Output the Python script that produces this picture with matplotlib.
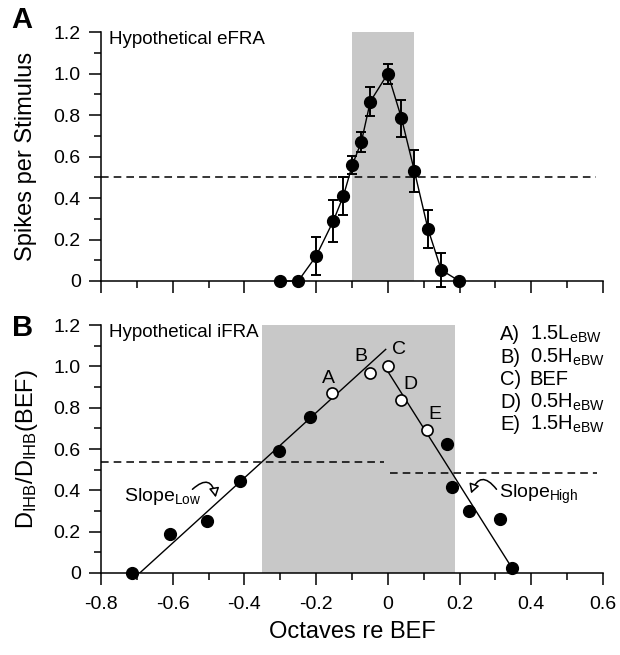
import numpy as np
import matplotlib
matplotlib.use("Agg")
import matplotlib.pyplot as plt
from matplotlib.ticker import MultipleLocator, FuncFormatter

plt.rcParams['font.family'] = ['Liberation Sans', 'DejaVu Sans']
plt.rcParams['axes.unicode_minus'] = False
plt.rcParams['mathtext.fontset'] = 'custom'
plt.rcParams['mathtext.rm'] = 'Liberation Sans'
plt.rcParams['mathtext.default'] = 'regular'

# ---------------- Data: panel A (eFRA) ----------------
efra_x = [-0.30, -0.25, -0.20, -0.152, -0.124, -0.099, -0.074, -0.049, 0.0,
          0.038, 0.074, 0.112, 0.149, 0.199]
efra_y = [0.0, 0.0, 0.12, 0.29, 0.41, 0.56, 0.67, 0.865, 1.0,
          0.785, 0.53, 0.25, 0.053, 0.0]
efra_err = [0.0, 0.0, 0.09, 0.10, 0.09, 0.045, 0.05, 0.07, 0.048,
            0.09, 0.10, 0.09, 0.08, 0.0]
efra_band = [-0.101, 0.074]
efra_half = 0.5
efra_half_span = [-0.8, 0.58]

# ---------------- Data: panel B (iFRA) ----------------
ifra_fill_x = [-0.713, -0.607, -0.504, -0.412, -0.303, -0.218,
               0.166, 0.180, 0.225, 0.312, 0.345]
ifra_fill_y = [0.0, 0.189, 0.252, 0.444, 0.589, 0.756,
               0.624, 0.418, 0.298, 0.260, 0.024]
ifra_open_x = [-0.155, -0.050, 0.0, 0.037, 0.108]
ifra_open_y = [0.869, 0.969, 1.0, 0.837, 0.690]
ifra_open_lab = ['A', 'B', 'C', 'D', 'E']
ifra_lab_x = [-0.165, -0.074, 0.030, 0.063, 0.132]
ifra_lab_y = [0.942, 1.046, 1.082, 0.914, 0.768]
ifra_band = [-0.352, 0.188]
low_fit_x = [-0.692, -0.006]
low_fit_y = [0.0, 1.082]
high_fit_x = [0.0, 0.355]
high_fit_y = [0.975, 0.0]
low_half_y = 0.537
low_half_span = [-0.8, -0.012]
high_half_y = 0.482
high_half_span = [0.005, 0.584]

legend_keys = ['A)', 'B)', 'C)', 'D)', 'E)']
legend_vals = [r'1.5L$_{eBW}$', r'0.5H$_{eBW}$', 'BEF', r'0.5H$_{eBW}$', r'1.5H$_{eBW}$']

x_ticks = [-0.8, -0.6, -0.4, -0.2, 0.0, 0.2, 0.4, 0.6]
y_ticks = [0.0, 0.2, 0.4, 0.6, 0.8, 1.0, 1.2]

GRAY = '#c8c8c8'


def fmt(v, pos=None):
    if abs(v) < 1e-9:
        return '0'
    return '%.1f' % v


fig = plt.figure(figsize=(6.2, 6.55), dpi=100)
axA = fig.add_axes([0.1629, 0.571, 0.8097, 0.380])
axB = fig.add_axes([0.1629, 0.1252, 0.8097, 0.3786])

for ax in (axA, axB):
    ax.set_xlim(-0.8, 0.6)
    ax.set_ylim(0, 1.2)
    ax.spines['top'].set_visible(False)
    ax.spines['right'].set_visible(False)
    for s in ('left', 'bottom'):
        ax.spines[s].set_linewidth(1.1)
    ax.set_xticks(x_ticks)
    ax.set_yticks(y_ticks)
    ax.xaxis.set_minor_locator(MultipleLocator(0.1))
    ax.yaxis.set_minor_locator(MultipleLocator(0.1))
    ax.yaxis.set_major_formatter(FuncFormatter(fmt))
    ax.xaxis.set_major_formatter(FuncFormatter(fmt))
    ax.tick_params(which='major', length=8.5, width=1.1, labelsize=14, pad=6)
    ax.tick_params(which='minor', length=5, width=1.1)
    ax.tick_params(axis='x', which='major', pad=8)

# ---- Panel A ----
axA.axvspan(efra_band[0], efra_band[1], color=GRAY, lw=0, zorder=0)
axA.hlines(efra_half, efra_half_span[0], efra_half_span[1], colors='black',
           linestyles=(0, (5, 3.3)), lw=1.1, zorder=1)
axA.errorbar(efra_x, efra_y, yerr=efra_err, fmt='-o', color='black', lw=1.0,
             ms=8.5, elinewidth=1.4, capsize=3.5, capthick=1.4, zorder=3,
             clip_on=False)
axA.tick_params(axis='x', labelbottom=False)
axA.set_ylabel('Spikes per Stimulus', fontsize=17)
axA.yaxis.set_label_coords(-0.128, 0.5)
axA.text(0.016, 0.952, 'Hypothetical eFRA', transform=axA.transAxes,
         fontsize=13.5, va='baseline', ha='left')

# ---- Panel B ----
axB.axvspan(ifra_band[0], ifra_band[1], color=GRAY, lw=0, zorder=0)
axB.hlines(low_half_y, low_half_span[0], low_half_span[1], colors='black',
           linestyles=(0, (5, 3.3)), lw=1.1, zorder=1)
axB.hlines(high_half_y, high_half_span[0], high_half_span[1], colors='black',
           linestyles=(0, (5, 3.3)), lw=1.1, zorder=1)
axB.plot(low_fit_x, low_fit_y, color='black', lw=1.0, zorder=2)
axB.plot(high_fit_x, high_fit_y, color='black', lw=1.0, zorder=2)
axB.plot(ifra_fill_x, ifra_fill_y, 'o', color='black', ms=8.5, zorder=3,
         clip_on=False)
axB.plot(ifra_open_x, ifra_open_y, 'o', mfc='white', mec='black', mew=1.2,
         ms=8.0, zorder=3)
for lx, ly, lab in zip(ifra_lab_x, ifra_lab_y, ifra_open_lab):
    axB.text(lx, ly, lab, fontsize=14, ha='center', va='center')

ys = [1.127, 1.018, 0.910, 0.800, 0.692]
for k, v, yy in zip(legend_keys, legend_vals, ys):
    axB.text(0.313, yy, k, fontsize=14.5, ha='left', va='baseline')
    axB.text(0.395, yy, v, fontsize=14.5, ha='left', va='baseline')

axB.text(0.016, 0.952, 'Hypothetical iFRA', transform=axB.transAxes,
         fontsize=13.5, va='baseline', ha='left')

axB.annotate('', xy=(-0.480, 0.366), xytext=(-0.545, 0.405),
             arrowprops=dict(arrowstyle='-|>,head_length=0.55,head_width=0.3',
                             connectionstyle='arc3,rad=-0.9', fc='white',
                             ec='black', lw=1.1, shrinkA=0, shrinkB=0))
axB.text(-0.735, 0.368, r'Slope$_{Low}$', fontsize=14, ha='left', va='center')
axB.annotate('', xy=(0.232, 0.385), xytext=(0.303, 0.405),
             arrowprops=dict(arrowstyle='-|>,head_length=0.55,head_width=0.3',
                             connectionstyle='arc3,rad=0.9', fc='white',
                             ec='black', lw=1.1, shrinkA=0, shrinkB=0))
axB.text(0.310, 0.378, r'Slope$_{High}$', fontsize=14, ha='left', va='center')

axB.set_ylabel(r'D$_{IHB}$/D$_{IHB}$(BEF)', fontsize=17)
axB.yaxis.set_label_coords(-0.122, 0.5)
axB.set_xlabel('Octaves re BEF', fontsize=17, labelpad=6)

fig.text(0.019, 0.957, 'A', fontsize=21, fontweight='bold', va='baseline')
fig.text(0.019, 0.487, 'B', fontsize=21, fontweight='bold', va='baseline')

fig.savefig('out.png', dpi=100)
